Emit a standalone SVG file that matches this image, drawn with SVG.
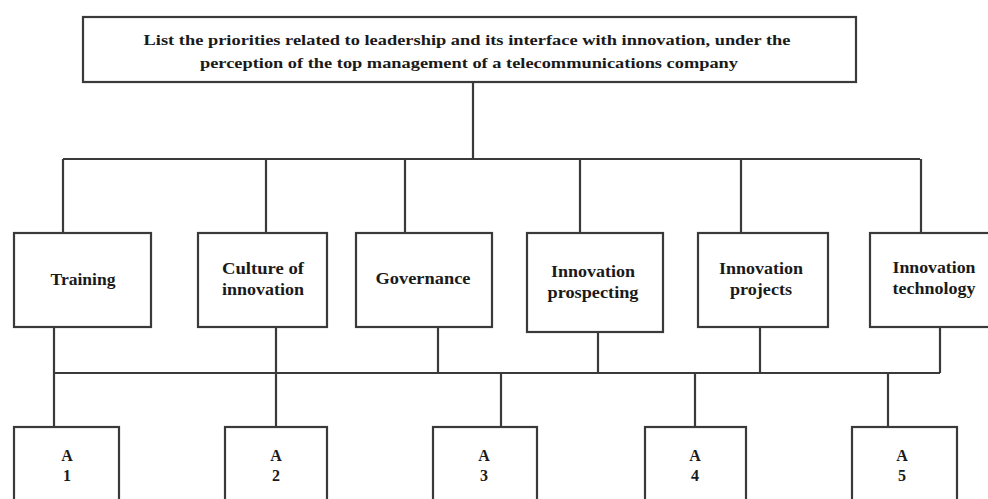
<svg xmlns="http://www.w3.org/2000/svg" width="988" height="499" viewBox="0 0 988 499">
<style>
.box{fill:#fff;stroke:#3a3a3a;stroke-width:2.2}
.ln{fill:none;stroke:#3a3a3a;stroke-width:2.2}
text{font-family:"Liberation Serif","Times New Roman",serif;font-weight:bold;fill:#1a1a1a;text-anchor:middle}
.t{font-size:15px}
.n{font-size:17px}
.a{font-size:16px}
</style>
<rect width="988" height="499" fill="#fff"/>
<g id="connectors">
<path class="ln" d="M473 82V159M63 159H920M63 159V233M266 159V233M405 159V233M580 159V233M741 159V233M921 159V233"/>
<path class="ln" d="M54 327V373M276 327V373M438 327V373M598 332V373M760 327V373M940 327V373M54 373H940"/>
<path class="ln" d="M54 373V427M276 373V427M501 373V427M695 373V427M888 373V427"/>
</g>
<g id="root">
<rect class="box" x="83" y="17" width="773" height="65"/>
<text class="t" x="467" y="45" textLength="647" lengthAdjust="spacingAndGlyphs">List the priorities related to leadership and its interface with innovation, under the</text>
<text class="t" x="469" y="68" textLength="538" lengthAdjust="spacingAndGlyphs">perception of the top management of a telecommunications company</text>
</g>
<g id="training">
<rect class="box" x="14" y="233" width="137" height="94"/>
<text class="n" x="83" y="285" textLength="65" lengthAdjust="spacingAndGlyphs">Training</text>
</g>
<g id="culture">
<rect class="box" x="198" y="233" width="129" height="94"/>
<text class="n" x="263" y="274" textLength="82" lengthAdjust="spacingAndGlyphs">Culture of</text>
<text class="n" x="263" y="295" textLength="82" lengthAdjust="spacingAndGlyphs">innovation</text>
</g>
<g id="governance">
<rect class="box" x="356" y="233" width="136" height="94"/>
<text class="n" x="423" y="284" textLength="95" lengthAdjust="spacingAndGlyphs">Governance</text>
</g>
<g id="prospecting">
<rect class="box" x="527" y="233" width="136" height="99"/>
<text class="n" x="593" y="277" textLength="84" lengthAdjust="spacingAndGlyphs">Innovation</text>
<text class="n" x="593" y="298" textLength="91" lengthAdjust="spacingAndGlyphs">prospecting</text>
</g>
<g id="projects">
<rect class="box" x="698" y="233" width="130" height="94"/>
<text class="n" x="761" y="274" textLength="84" lengthAdjust="spacingAndGlyphs">Innovation</text>
<text class="n" x="761" y="295" textLength="62" lengthAdjust="spacingAndGlyphs">projects</text>
</g>
<g id="technology">
<rect class="box" x="870" y="233" width="122" height="94"/>
<text class="n" x="934" y="273" textLength="83" lengthAdjust="spacingAndGlyphs">Innovation</text>
<text class="n" x="934" y="294" textLength="83" lengthAdjust="spacingAndGlyphs">technology</text>
</g>
<g id="a1">
<rect class="box" x="14" y="427" width="105" height="80"/>
<text class="a" x="67" y="461">A</text>
<text class="a" x="67" y="481">1</text>
</g>
<g id="a2">
<rect class="box" x="225" y="427" width="102" height="80"/>
<text class="a" x="276" y="461">A</text>
<text class="a" x="276" y="481">2</text>
</g>
<g id="a3">
<rect class="box" x="433" y="427" width="104" height="80"/>
<text class="a" x="484" y="461">A</text>
<text class="a" x="484" y="481">3</text>
</g>
<g id="a4">
<rect class="box" x="645" y="427" width="101" height="80"/>
<text class="a" x="695" y="461">A</text>
<text class="a" x="695" y="481">4</text>
</g>
<g id="a5">
<rect class="box" x="852" y="427" width="105" height="80"/>
<text class="a" x="902" y="461">A</text>
<text class="a" x="902" y="481">5</text>
</g>
</svg>
